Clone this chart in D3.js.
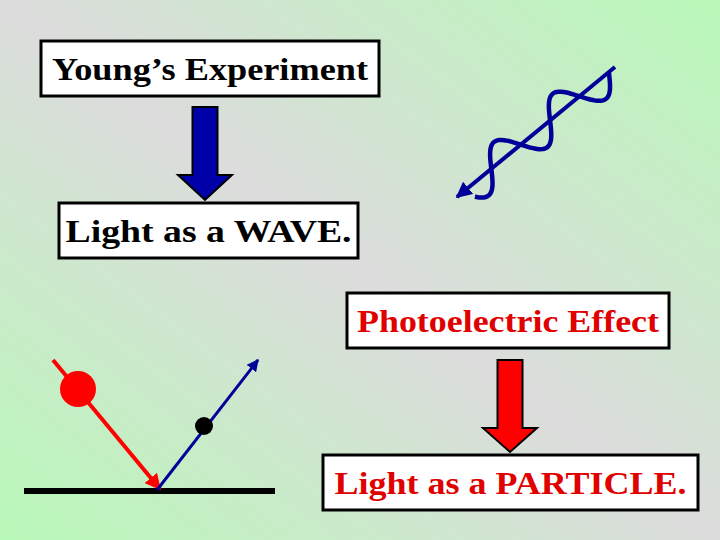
<!DOCTYPE html>
<html><head><meta charset="utf-8">
<script src="https://cdn.jsdelivr.net/npm/d3@7"></script>
<style>body{margin:0}svg{display:block}</style></head>
<body><script>
const W=720,H=540;
const labels=["Young’s Experiment","Light as a WAVE.","Photoelectric Effect","Light as a PARTICLE."];
const labelColors=["#000","#000","#e00000","#e00000"];
const boxes=[[41,41,338,55],[59,203,299,55],[347,293,322,55],[323,455,375,55]];
const textW=[316,286,302,352];
const svg=d3.select("body").append("svg").attr("width",W).attr("height",H);
const defs=svg.append("defs");
const g=defs.append("linearGradient").attr("id","bg").attr("x1",0).attr("y1",1).attr("x2",1).attr("y2",0);
g.append("stop").attr("offset",0).attr("stop-color","#b8f8b8");
g.append("stop").attr("offset",0.5).attr("stop-color","#dcdcdc");
g.append("stop").attr("offset",1).attr("stop-color","#b8f8b8");
svg.append("rect").attr("width",W).attr("height",H).attr("fill","url(#bg)");
function mk(id,c){defs.append("marker").attr("id",id).attr("viewBox","0 0 10 10").attr("refX",9).attr("refY",5)
 .attr("markerWidth",4).attr("markerHeight",4).attr("orient","auto").append("path").attr("d","M0,0L10,5L0,10z").attr("fill",c);}
mk("mb","#000099");mk("mr","#ff0000");
boxes.forEach((b,i)=>{
 svg.append("rect").attr("x",b[0]).attr("y",b[1]).attr("width",b[2]).attr("height",b[3]).attr("fill","#fff").attr("stroke","#000").attr("stroke-width",3);
 svg.append("text").attr("x",b[0]+(b[2]-textW[i])/2).attr("y",b[1]+b[3]/2+11)
  .attr("textLength",textW[i]).attr("lengthAdjust","spacingAndGlyphs")
  .attr("font-family","Liberation Serif").attr("font-size",32).attr("font-weight","bold").attr("fill",labelColors[i]).text(labels[i]);
});
function bigArrow(cx,y0,y1,tip,fill){
 svg.append("path").attr("d",`M${cx-12.5},${y0}L${cx+12.5},${y0}L${cx+12.5},${y1}L${cx+27},${y1}L${cx},${tip}L${cx-27},${y1}L${cx-12.5},${y1}Z`)
  .attr("fill",fill).attr("stroke","#000").attr("stroke-width",2);
}
bigArrow(205,107,175,200,"#0000a8");
bigArrow(510,360,428,452,"#ff0000");
// wave
const p0=[615,67],p1=[457,197];
const L=Math.hypot(p1[0]-p0[0],p1[1]-p0[1]);const ux=(p1[0]-p0[0])/L,uy=(p1[1]-p0[1])/L;const nx=-uy,ny=ux;
svg.append("line").attr("x1",p0[0]).attr("y1",p0[1]).attr("x2",p1[0]).attr("y2",p1[1]).attr("stroke","#000099").attr("stroke-width",4).attr("marker-end","url(#mb)");
const pts=d3.range(0,1.001,0.01).map(t=>{const s=8+t*(L-22);const a=-19*Math.sin(t*Math.PI*2*2.4);return [p0[0]+ux*s+nx*a,p0[1]+uy*s+ny*a];});
svg.append("path").attr("d",d3.line().curve(d3.curveBasis)(pts)).attr("fill","none").attr("stroke","#000099").attr("stroke-width",4.5);
// reflection
svg.append("line").attr("x1",24).attr("y1",491).attr("x2",275).attr("y2",491).attr("stroke","#000").attr("stroke-width",6);
svg.append("line").attr("x1",53).attr("y1",360).attr("x2",160).attr("y2",489).attr("stroke","#ff0000").attr("stroke-width",4).attr("marker-end","url(#mr)");
svg.append("circle").attr("cx",78).attr("cy",389).attr("r",18).attr("fill","#ff0000");
svg.append("line").attr("x1",157).attr("y1",490).attr("x2",258).attr("y2",360).attr("stroke","#000099").attr("stroke-width",3).attr("marker-end","url(#mb)");
svg.append("circle").attr("cx",204).attr("cy",426).attr("r",9).attr("fill","#000");
</script></body></html>
